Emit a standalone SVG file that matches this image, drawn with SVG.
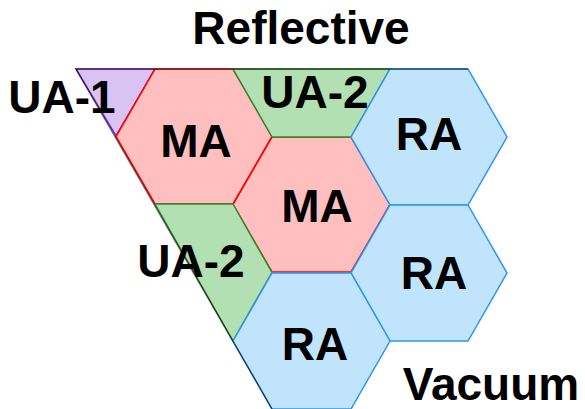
<svg xmlns="http://www.w3.org/2000/svg" width="585" height="409" viewBox="0 0 585 409">
  <style>
    .lbl { font-family: "Liberation Sans", Arial, sans-serif; font-weight: bold; font-size: 46px; fill: #000; text-anchor: middle; }
    .ua1 { fill: #d9c3f2; stroke: #7b2fc9; stroke-width: 1.5; }
    .ma { fill: #ffbfbf; stroke: #ff0000; stroke-width: 1.5; }
    .ua2 { fill: #b3e0b3; stroke: #2e8b2e; stroke-width: 1.5; }
    .ra { fill: #c0e4fc; stroke: #2b95f2; stroke-width: 1.5; }
    .edge { fill: none; stroke: #000; stroke-opacity: 0.55; stroke-width: 1.5; }
  </style>
  <rect width="585" height="409" fill="#fff"/>

  <g id="ua1">
    <polygon class="ua1" points="76,69 155,69 116,136"/>
    <text class="lbl" x="62" y="113">UA-1</text>
  </g>
  <g id="ma-top">
    <polygon class="ma" points="155,69 233,69 272,136.5 233,204 155,204 116,136.5"/>
    <text class="lbl" x="196" y="157">MA</text>
  </g>
  <g id="ma-center">
    <polygon class="ma" points="272,137 351,137 390,204.5 351,272 272,272 233,204.5"/>
    <text class="lbl" x="317" y="222">MA</text>
  </g>
  <g id="ua2-top">
    <polygon class="ua2" points="233,69 390,69 351,137 272,137"/>
    <text class="lbl" x="315" y="108">UA-2</text>
  </g>
  <g id="ua2-lower">
    <polygon class="ua2" points="155,204 233,204 272,272.5 233,341"/>
    <text class="lbl" x="191" y="277">UA-2</text>
  </g>
  <g id="ra-top">
    <polygon class="ra" points="390,69 468,69 507,137 468,205 390,205 351,137"/>
    <text class="lbl" x="429" y="150">RA</text>
  </g>
  <g id="ra-mid">
    <polygon class="ra" points="390,205 468,205 507,273 468,341 390,341 351,273"/>
    <text class="lbl" x="434" y="289">RA</text>
  </g>
  <g id="ra-bottom">
    <polygon class="ra" points="272,273 351,273 390,341 351,409 272,409 233,341"/>
    <text class="lbl" x="315" y="360">RA</text>
  </g>

  <g id="connectors">
    <!-- outer boundary of the reflective side -->
    <polyline class="edge" points="468,69 76,69 272,409"/>
  </g>

  <g id="titles">
    <text class="lbl" x="301" y="44">Reflective</text>
    <text class="lbl" x="491" y="400">Vacuum</text>
  </g>
</svg>
